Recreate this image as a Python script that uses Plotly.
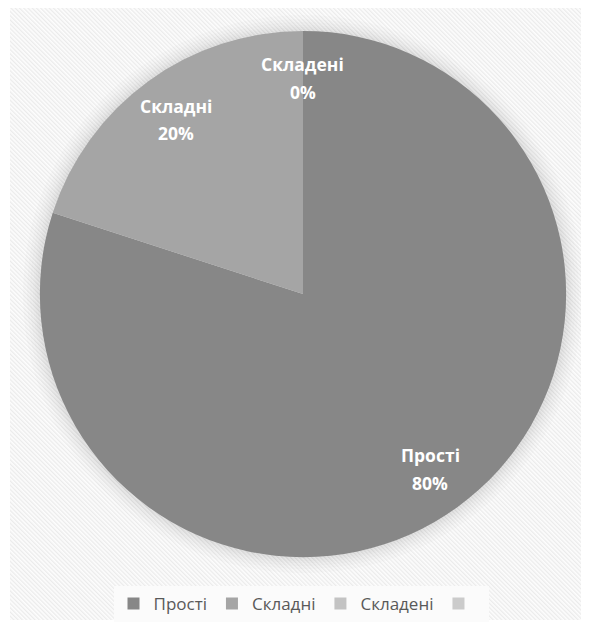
import math
import base64
import plotly.graph_objects as go

# ---- data ----
labels = ["Прості", "Складні", "Складені", " "]
values = [80, 20, 0, 0]
colors = ["#878787", "#a5a5a5", "#c3c3c3", "#cbcbcb"]

W, H = 581, 614
CX, CY, R = 295, 287, 264  # pie centre / radius in pixels (figure space)

# striped background as an inline SVG image
svg = (
    '<svg xmlns="http://www.w3.org/2000/svg" width="579" height="614">'
    '<defs><pattern id="p" width="3" height="3" patternUnits="userSpaceOnUse" '
    'patternTransform="rotate(-45)">'
    '<rect width="3" height="3" fill="#fdfdfd"/>'
    '<rect width="1.3" height="3" fill="#ebebeb"/>'
    '</pattern></defs>'
    '<rect width="100%" height="100%" fill="url(#p)"/></svg>'
)
src = "data:image/svg+xml;base64," + base64.b64encode(svg.encode()).decode()

fig = go.Figure()
fig.add_trace(go.Pie(
    labels=labels,
    values=values,
    marker=dict(colors=colors, line=dict(width=0)),
    sort=False,
    direction="clockwise",
    rotation=0,
    textinfo="none",
    hoverinfo="label+percent",
    domain=dict(x=[(CX - R) / W, (CX + R) / W], y=[1 - (CY + R) / H, 1 - (CY - R) / H]),
))

# soft shadow around the pie
shapes = []
for k in [16, 12, 9, 6, 4, 2]:
    shapes.append(dict(
        type="circle", xref="paper", yref="paper", layer="below",
        x0=(CX - R - k) / W, x1=(CX + R + k) / W,
        y0=1 - (CY + R + k) / H, y1=1 - (CY - R - k) / H,
        fillcolor="rgba(0,0,0,0.014)", line=dict(width=0),
    ))

# data labels (computed from values)
total = sum(values)
annotations = []
cum = 0
for lab, v in zip(labels, values):
    if lab.strip():
        a = (cum + v / 2) / total * 2 * math.pi
        r = 0.82 * R
        px = CX + r * math.sin(a)
        py = CY - r * math.cos(a)
        pct = f"{round(v / total * 100)}%"
        for txt, dy in [(lab, -14), (pct, 14)]:
            annotations.append(dict(
                x=px / W, y=1 - (py + dy) / H, xref="paper", yref="paper",
                text=f"<b>{txt}</b>", showarrow=False,
                font=dict(family="Open Sans", size=17.5, color="white"),
                xanchor="center", yanchor="middle",
            ))
    cum += v

fig.update_layout(
    width=W, height=H,
    margin=dict(l=0, r=0, t=0, b=0),
    paper_bgcolor="white",
    images=[dict(source=src, xref="paper", yref="paper", x=2 / W, y=1,
                 sizex=(W - 2) / W, sizey=1, xanchor="left", yanchor="top",
                 sizing="stretch", layer="below")],
    shapes=shapes,
    annotations=annotations,
    showlegend=True,
    legend=dict(
        orientation="h", x=(301 - 8) / W, xanchor="center", y=1 - 598 / H, yanchor="middle",
        bgcolor="#fbfbfb", font=dict(family="Open Sans", size=17, color="#595959"),
        traceorder="normal", itemwidth=30, borderwidth=0,
    ),
)

fig.write_html("out.html")
